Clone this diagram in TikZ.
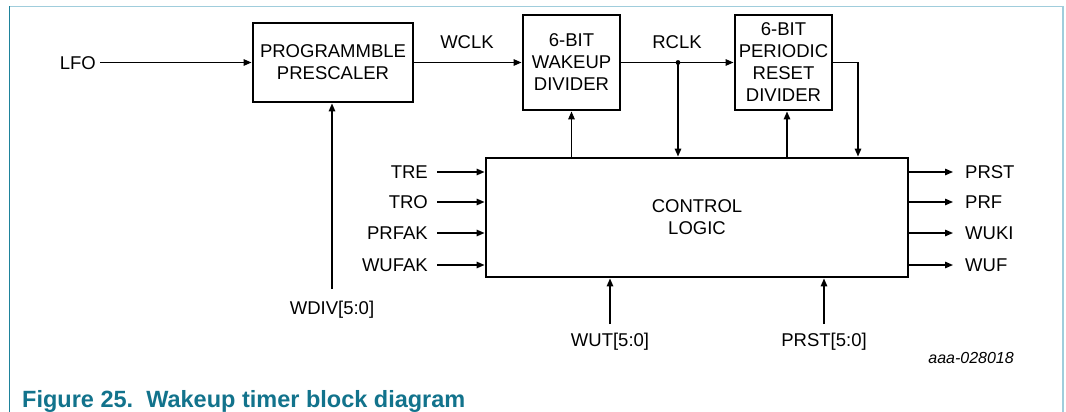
\documentclass[tikz,border=0pt]{standalone}
\usepackage{fontspec}
\setmainfont{Liberation Sans}
\usetikzlibrary{arrows.meta}
\definecolor{frameLight}{RGB}{160,205,220}
\definecolor{frameDark}{RGB}{30,130,155}
\definecolor{capTeal}{RGB}{18,115,140}
\begin{document}
\begin{tikzpicture}[x=1pt,y=-1pt,
  blk/.style={draw, line width=2.9pt, align=center, inner sep=0pt,
    font=\fontsize{18.5}{22}\selectfont},
  lbl/.style={inner sep=0pt, text height=13.3pt, text depth=0pt,
    font=\fontsize{18.5}{22}\selectfont},
  conn/.style={line width=1.4pt},
  arr/.style={conn, -{Triangle[length=8pt,width=6.5pt]}}]
\useasboundingbox (0,0) rectangle (1066,412);
\fill[white] (0,0) rectangle (1066,412);
% frame
\draw[frameLight, line width=1.6pt] (9.5,6.5) -- (1063,6.5) -- (1063,412);
\draw[frameDark, line width=1.6pt] (9.5,412) -- (9.5,6.5);
% blocks
\node[blk, minimum width=160pt, minimum height=79pt] (pre) at (333,62.5) {PROGRAMMBLE\\PRESCALER};
\node[blk, minimum width=97pt, minimum height=95pt] (wak) at (571.5,62.5) {6-BIT\\WAKEUP\\DIVIDER};
\node[blk, minimum width=97pt, minimum height=95pt] (rst) at (783.5,62.5) {6-BIT\\PERIODIC\\RESET\\DIVIDER};
\node[blk, minimum width=422pt, minimum height=119pt] (ctl) at (697,217.5) {CONTROL\\LOGIC};
% labels
\node[lbl, anchor=east] (lfo) at (96,62.5) {LFO};
\node[lbl] (wclk) at (467,42) {WCLK};
\node[lbl] (rclk) at (677,42) {RCLK};
\node[lbl, anchor=east] (tre) at (428,172) {TRE};
\node[lbl, anchor=east] (tro) at (428,202) {TRO};
\node[lbl, anchor=east] (prfak) at (428,233) {PRFAK};
\node[lbl, anchor=east] (wufak) at (428,265) {WUFAK};
\node[lbl, anchor=west] (oprst) at (965,172) {PRST};
\node[lbl, anchor=west] (oprf) at (965,202) {PRF};
\node[lbl, anchor=west] (owuki) at (965,233) {WUKI};
\node[lbl, anchor=west] (owuf) at (965,265) {WUF};
\node[lbl] (wdiv) at (332,308) {WDIV[5:0]};
\node[lbl] (wut) at (610,340) {WUT[5:0]};
\node[lbl] (prstin) at (824,340) {PRST[5:0]};
\node[inner sep=0pt, anchor=east, text height=11.5pt, text depth=0pt,
  font=\fontsize{16}{18}\selectfont\itshape] (code) at (1014,358) {aaa-028018};
\node[inner sep=0pt, anchor=base west, text=capTeal,
  font=\fontsize{23.5}{26}\selectfont\bfseries] (cap) at (22,407) {Figure 25.\ \ Wakeup timer block diagram};
% coordinates
\coordinate (j) at (678,62.5);
\coordinate (rcorner) at (858,62.5);
\coordinate (wdivtop) at (332,289);
\coordinate (wutbot) at (610,324);
\coordinate (prstbot) at (824,324);
\coordinate (rstup) at (787,157);
% connectors
\draw[arr] ([xshift=4pt]lfo.east) -- (pre.west);
\draw[arr] (pre.east) -- (pre.east -| wak.west);
\draw[arr] (wak.east) -- (wak.east -| rst.west);
\fill (j) circle (2.4pt);
\draw[arr] (j) -- (j |- ctl.north);
\draw[arr] (wak.south |- ctl.north) -- (wak.south);
\draw[arr] (rstup |- ctl.north) -- (rstup |- rst.south);
\draw[arr] (rst.east |- rcorner) -- (rcorner) -- (rcorner |- ctl.north);
\draw[arr] (wdivtop) -- (wdivtop |- pre.south);
\draw[arr] (wutbot) -- (wutbot |- ctl.south);
\draw[arr] (prstbot) -- (prstbot |- ctl.south);
\foreach \n in {tre,tro,prfak,wufak}
  \draw[arr] ([xshift=9pt]\n.east) -- (\n.east -| ctl.west);
\foreach \n in {oprst,oprf,owuki,owuf}
  \draw[arr] (\n.west -| ctl.east) -- ([xshift=-12pt]\n.west);
\end{tikzpicture}
\end{document}
